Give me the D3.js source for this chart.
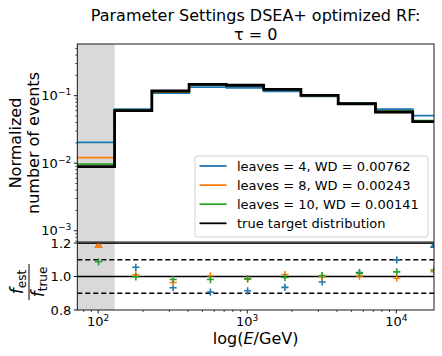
<!DOCTYPE html>
<html><head><meta charset="utf-8">
<script src="https://cdn.jsdelivr.net/npm/d3@7"></script>
<style>body{margin:0;background:#fff}svg{display:block;font-family:"DejaVu Sans",sans-serif}</style>
</head><body><svg id="c" width="442" height="356"></svg>
<script>
// bin edges in log10(E/GeV)
const logEdges = [1.86, 2.11, 2.36, 2.61, 2.86, 3.11, 3.36, 3.61, 3.86, 4.11, 4.36];
const trueDist = [0.0089, 0.060, 0.1174, 0.1475, 0.143, 0.1245, 0.101, 0.076, 0.0574, 0.0412];
const leaves4  = [0.0204, 0.0633, 0.1095, 0.1338, 0.1308, 0.1164, 0.0977, 0.0778, 0.0631, 0.0506];
const leaves8  = [0.0121, 0.0606, 0.1132, 0.1481, 0.1410, 0.1260, 0.1008, 0.0762, 0.0568, 0.0424];
const leaves10 = [0.00968, 0.0599, 0.1153, 0.1448, 0.1410, 0.1238, 0.1016, 0.0774, 0.0590, 0.0428];
const seriesNames = ["leaves = 4, WD = 0.00762", "leaves = 8, WD = 0.00243", "leaves = 10, WD = 0.00141", "true target distribution"];
const colors = ["#1f77b4", "#ff7f0e", "#2ca02c", "#000000"];
const ratioTicks = [0.8, 1.0, 1.2];
const ratioLines = [0.9, 1.1];

const edges = logEdges.map(l => Math.pow(10, l));
const centers = edges.slice(0, -1).map((e, i) => (e + edges[i + 1]) / 2);

const svg = d3.select("#c");
const L = 77.3, R = 434, T1 = 44, B1 = 242, T2 = 243, B2 = 310;
const x = d3.scaleLog().domain([edges[0], centers[centers.length - 1]]).range([L, R]);
const yT = d3.scaleLog().domain([Math.pow(10, -3.167), Math.pow(10, -0.234)]).range([B1, T1]);
const yB = d3.scaleLinear().domain([0.8, 1.2]).range([B2, T2]);

const defs = svg.append("defs");
defs.append("clipPath").attr("id", "cp1").append("rect").attr("x", L).attr("y", T1).attr("width", R - L).attr("height", B1 - T1);
defs.append("clipPath").attr("id", "cp2").append("rect").attr("x", L).attr("y", T2).attr("width", R - L).attr("height", B2 - T2);

// gray region (first bin)
svg.append("rect").attr("x", x(edges[0])).attr("y", T1).attr("width", x(edges[1]) - x(edges[0])).attr("height", B2 - T1).attr("fill", "#d9d9d9");

// top panel steps
const g1 = svg.append("g").attr("clip-path", "url(#cp1)");
const stepLine = d3.line().curve(d3.curveStepAfter).x(d => x(d[0])).y(d => yT(d[1]));
[leaves4, leaves8, leaves10, trueDist].forEach((vals, k) => {
  const pts = vals.map((v, i) => [edges[i], v]);
  pts.push([edges[edges.length - 1], vals[vals.length - 1]]);
  g1.append("path").attr("d", stepLine(pts)).attr("fill", "none")
    .attr("stroke", colors[k]).attr("stroke-width", k === 3 ? 2.8 : 1.8);
});

// bottom panel lines
const g2 = svg.append("g").attr("clip-path", "url(#cp2)");
[1.0, 1.2].forEach(v => g2.append("line").attr("x1", L).attr("x2", R).attr("y1", yB(v)).attr("y2", yB(v)).attr("stroke", "#000").attr("stroke-width", 1.3));
ratioLines.forEach(v => g2.append("line").attr("x1", L).attr("x2", R).attr("y1", yB(v)).attr("y2", yB(v)).attr("stroke", "#000").attr("stroke-width", 1.3).attr("stroke-dasharray", "5,3"));

const g2m = svg.append("g").attr("clip-path", "url(#cp2)");
[leaves4, leaves8, leaves10].forEach((vals, k) => {
  vals.forEach((v, i) => {
    const r = v / trueDist[i];
    const cx = x(centers[i]);
    if (r > 1.2) {
      const cy = yB(1.185);
      g2m.append("path").attr("d", d3.symbol(d3.symbolTriangle, 30)()).attr("transform", `translate(${cx},${cy})`).attr("fill", colors[k]);
    } else if (r < 0.8) {
      const cy = yB(0.815);
      g2m.append("path").attr("d", d3.symbol(d3.symbolTriangle, 30)()).attr("transform", `translate(${cx},${cy}) rotate(180)`).attr("fill", colors[k]);
    } else {
      const cy = yB(r), s = 3.6;
      g2m.append("path").attr("d", `M${cx - s},${cy}H${cx + s}M${cx},${cy - s}V${cy + s}`).attr("stroke", colors[k]).attr("stroke-width", 1.6).attr("fill", "none");
    }
  });
});

// frames
[[T1, B1], [T2, B2]].forEach(([t, b]) => svg.append("rect").attr("x", L).attr("y", t).attr("width", R - L).attr("height", b - t).attr("fill", "none").attr("stroke", "#000").attr("stroke-width", 0.9));

// top y axis ticks
const fs = 13;
for (let e = -4; e <= 0; e++) {
  for (let m = 1; m <= 9; m++) {
    const v = m * Math.pow(10, e);
    if (v < yT.domain()[0] || v > yT.domain()[1]) continue;
    const yy = yT(v);
    svg.append("line").attr("x1", L).attr("x2", L - (m === 1 ? 3.5 : 2)).attr("y1", yy).attr("y2", yy).attr("stroke", "#000").attr("stroke-width", m === 1 ? 0.9 : 0.7);
    if (m === 1) {
      const t = svg.append("text").attr("x", L - 6).attr("y", yy + 4.5).attr("text-anchor", "end").attr("font-size", fs);
      t.append("tspan").text("10");
      t.append("tspan").attr("dy", -5).attr("font-size", fs * 0.7).text("\u2212" + (-e));
    }
  }
}
// bottom y ticks
ratioTicks.forEach(v => {
  svg.append("line").attr("x1", L).attr("x2", L - 3.5).attr("y1", yB(v)).attr("y2", yB(v)).attr("stroke", "#000").attr("stroke-width", 0.9);
  svg.append("text").attr("x", L - 6).attr("y", yB(v) + 4.5).attr("text-anchor", "end").attr("font-size", fs).text(v.toFixed(1));
});
// bottom x ticks
for (let e = 1; e <= 4; e++) {
  for (let m = 1; m <= 9; m++) {
    const v = m * Math.pow(10, e);
    if (v < x.domain()[0] || v > x.domain()[1]) continue;
    const xx = x(v);
    svg.append("line").attr("x1", xx).attr("x2", xx).attr("y1", B2).attr("y2", B2 + (m === 1 ? 3.5 : 2)).attr("stroke", "#000").attr("stroke-width", m === 1 ? 0.9 : 0.7);
    if (m === 1) {
      const t = svg.append("text").attr("x", xx).attr("y", B2 + 16).attr("text-anchor", "middle").attr("font-size", fs);
      t.append("tspan").text("10");
      t.append("tspan").attr("dy", -5).attr("font-size", fs * 0.7).text(e);
    }
  }
}

// legend
const lg = svg.append("g");
lg.append("rect").attr("x", 195).attr("y", 156).attr("width", 233).attr("height", 81).attr("rx", 3)
  .attr("fill", "#fff").attr("fill-opacity", 0.8).attr("stroke", "#cccccc").attr("stroke-width", 0.9);
seriesNames.forEach((n, i) => {
  const yy = 166 + i * 19.1;
  lg.append("line").attr("x1", 199.5).attr("x2", 226.5).attr("y1", yy).attr("y2", yy).attr("stroke", colors[i]).attr("stroke-width", 1.8);
  lg.append("text").attr("x", 237).attr("y", yy + 4.6).attr("font-size", fs).text(n);
});

// title
svg.append("text").attr("x", (L + R) / 2).attr("y", 21).attr("text-anchor", "middle").attr("font-size", 16).text("Parameter Settings DSEA+ optimized RF:");
svg.append("text").attr("x", (L + R) / 2).attr("y", 40).attr("text-anchor", "middle").attr("font-size", 16).text("\u03c4 = 0");

// y label top
const yl = svg.append("g").attr("transform", `translate(0,${(T1 + B1) / 2}) rotate(-90)`);
yl.append("text").attr("x", 0).attr("y", 21).attr("text-anchor", "middle").attr("font-size", 16).text("Normalized");
yl.append("text").attr("x", 0).attr("y", 39).attr("text-anchor", "middle").attr("font-size", 16).text("number of events");

// y label bottom (fraction)
const fl = svg.append("g").attr("transform", `translate(29,282) rotate(-90)`);
fl.append("line").attr("x1", -18).attr("x2", 18).attr("y1", 0).attr("y2", 0).attr("stroke", "#000").attr("stroke-width", 1);
const num = fl.append("text").attr("x", 0).attr("y", -6).attr("text-anchor", "middle").attr("font-size", 17);
num.append("tspan").attr("font-style", "italic").text("f");
num.append("tspan").attr("dy", 3).attr("font-size", 12).text("est");
const den = fl.append("text").attr("x", 0).attr("y", 15).attr("text-anchor", "middle").attr("font-size", 17);
den.append("tspan").attr("font-style", "italic").text("f");
den.append("tspan").attr("dy", 3).attr("font-size", 12).text("true");

// x label
const xl = svg.append("text").attr("x", (L + R) / 2).attr("y", 344).attr("text-anchor", "middle").attr("font-size", 16);
xl.append("tspan").text("log(");
xl.append("tspan").attr("font-style", "italic").text("E");
xl.append("tspan").text("/GeV)");
</script></body></html>
